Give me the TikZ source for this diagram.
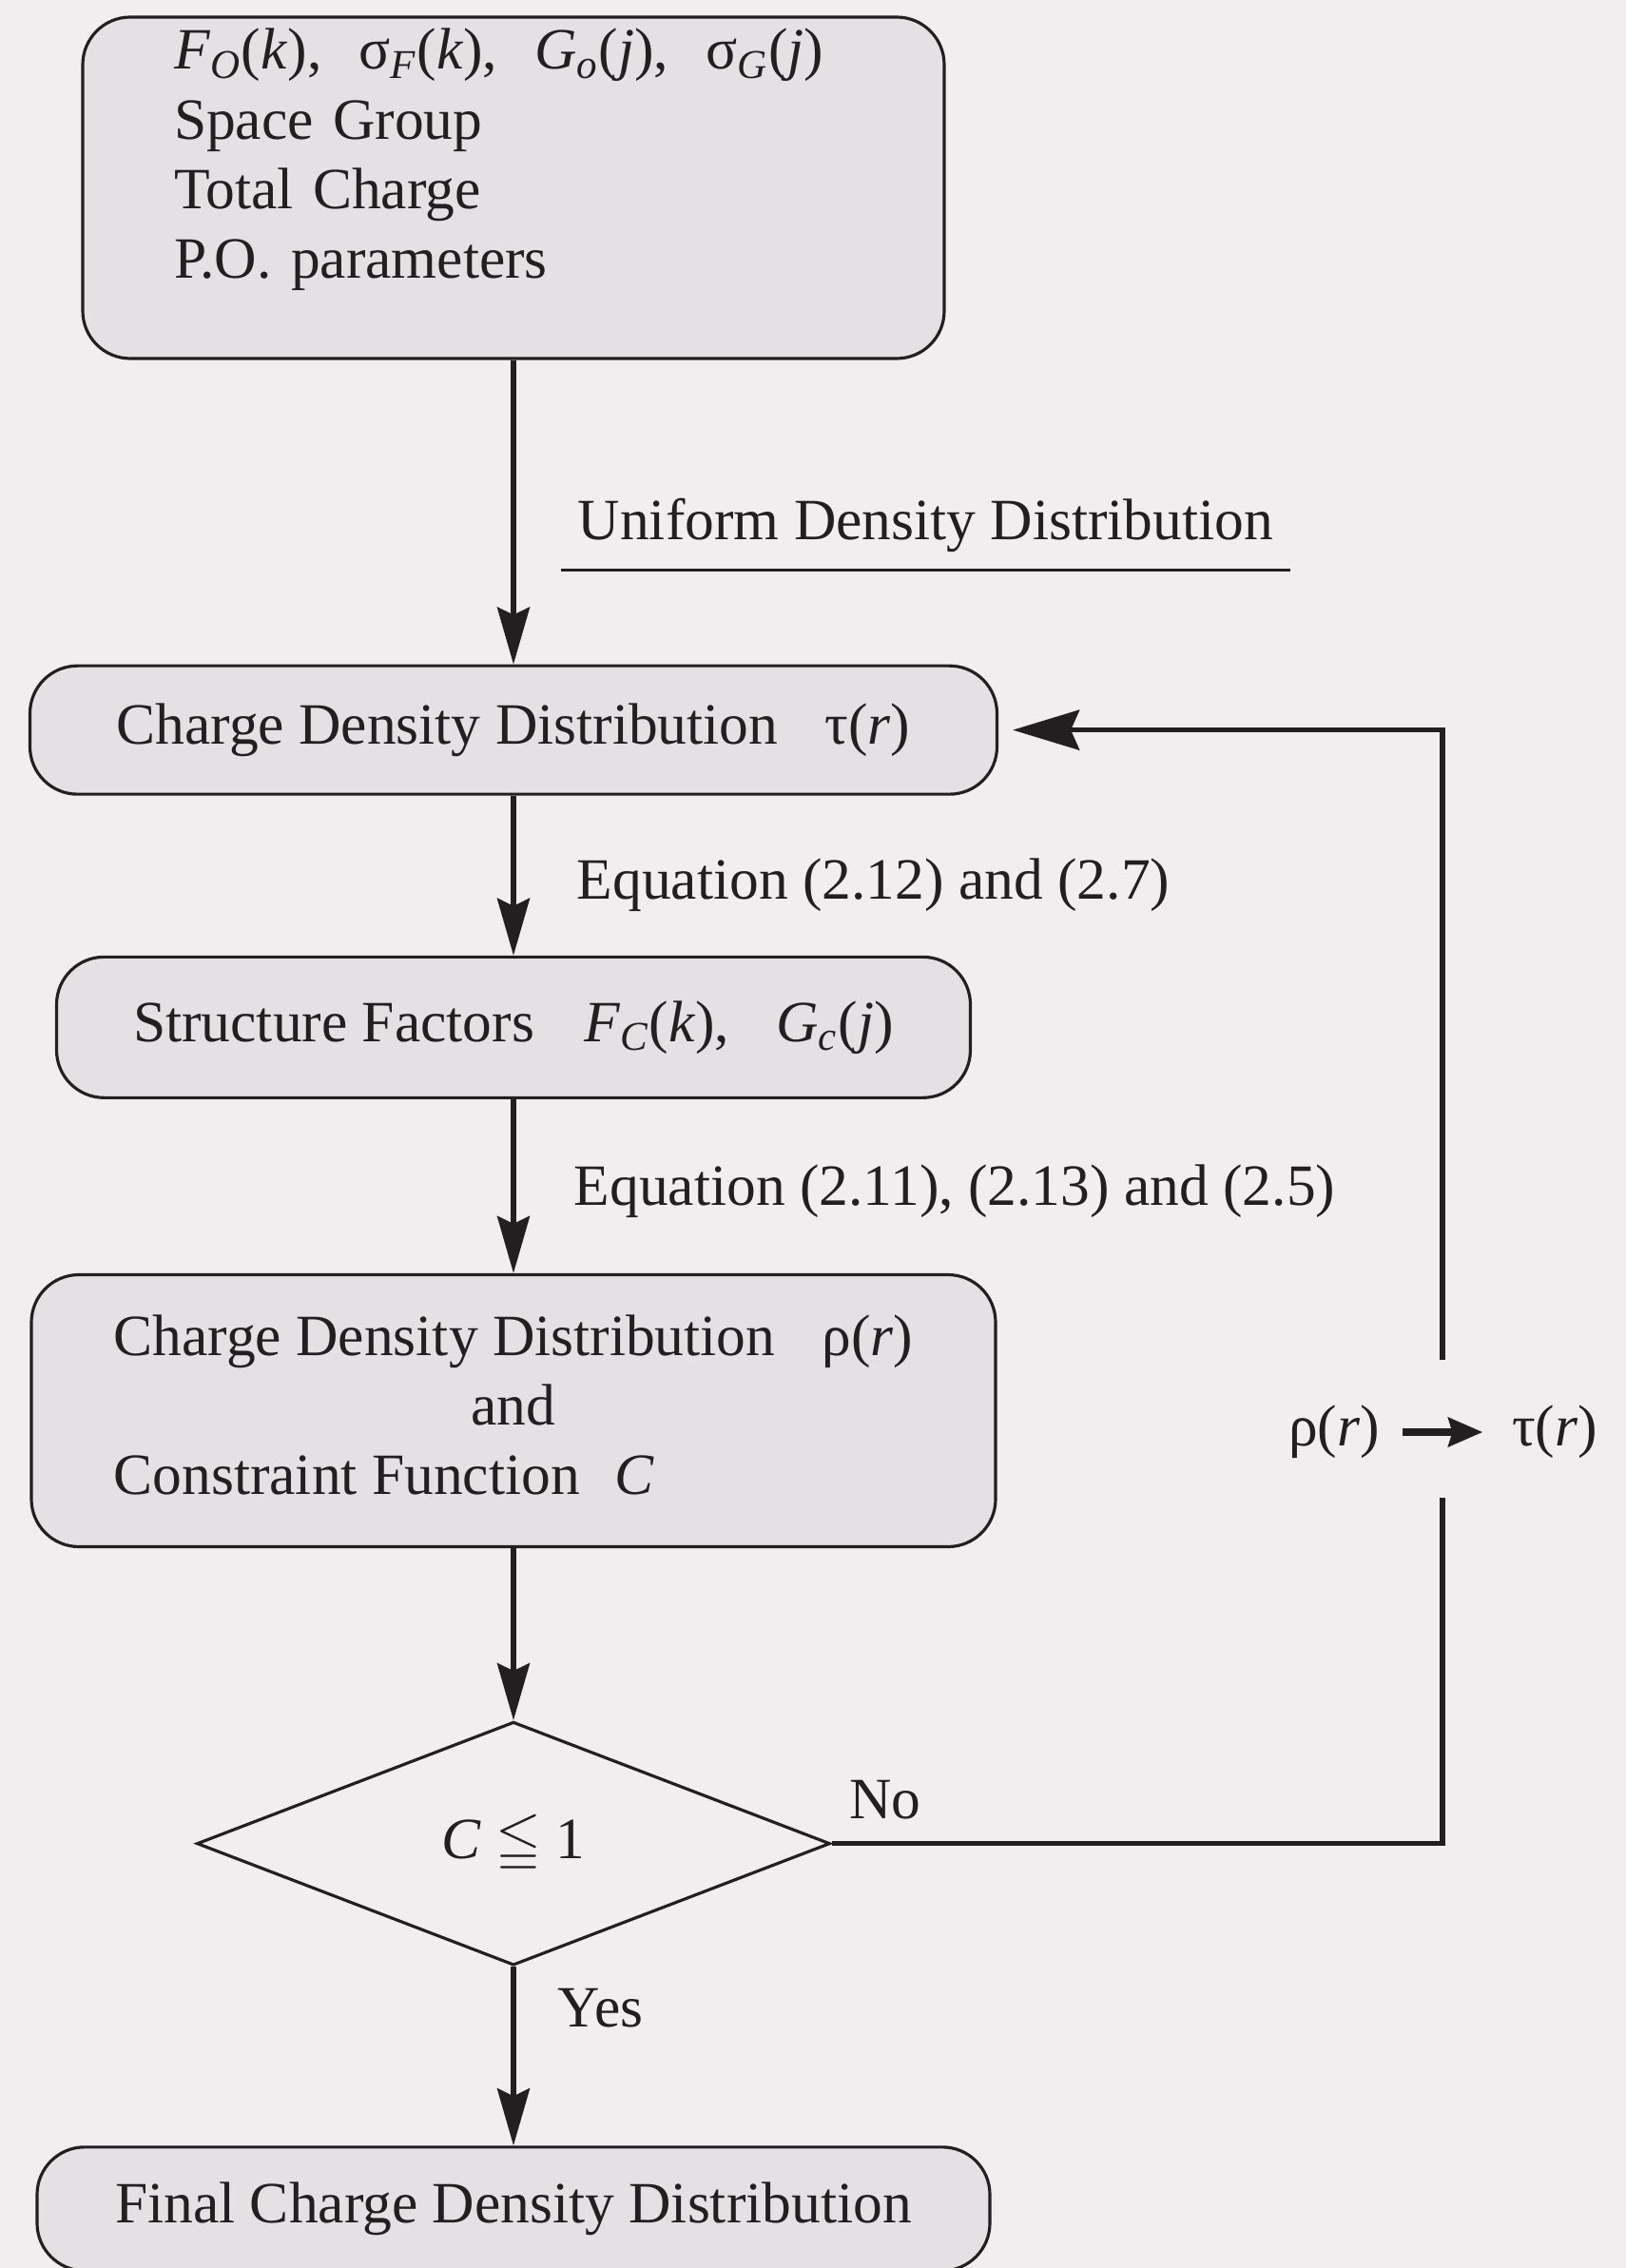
\documentclass[tikz,border=0pt]{standalone}
\usepackage{fontspec}
\setmainfont{Liberation Serif}
\usepackage{amssymb}
\usetikzlibrary{arrows.meta,positioning,shapes.geometric}
\definecolor{scanPaper}{HTML}{F0EEEF}
\definecolor{scanBox}{HTML}{E3E1E3}
\definecolor{scanInk}{HTML}{231F20}
\newcommand{\isub}[1]{\textsubscript{\itshape #1}}
\tikzset{
  flowBox/.style={
    draw=scanInk,
    rounded corners=5mm,
    fill=scanBox,
    line width=0.9pt,
    align=center,
    text=scanInk,
    font=\fontsize{17.5}{20.8}\selectfont,
    inner sep=0pt
  },
  flowDecision/.style={
    diamond,
    draw=scanInk,
    line width=0.9pt,
    text=scanInk,
    font=\fontsize{17.5}{20.8}\selectfont,
    inner sep=0pt
  },
  flowArrow/.style={
    -{Stealth[length=6mm,width=3.4mm,inset=0.8mm]},
    line width=1.6pt,
    draw=scanInk
  },
  flowLine/.style={
    line width=1.6pt,
    draw=scanInk
  },
  flowLabel/.style={
    text=scanInk,
    font=\fontsize{17.5}{20.8}\selectfont,
    inner sep=0pt
  }
}

\begin{document}
\begin{tikzpicture}[node distance=1.8cm]
  \fill[scanPaper] (0,0) rectangle (17.1,-23.85);
  \useasboundingbox (0,0) rectangle (17.1,-23.85);

  \node[flowBox, align=left, text width=7.14cm, inner xsep=9.6mm, text depth=83pt,
        minimum width=9.06cm, minimum height=3.59cm] (inputs) at (5.4,-1.975)
    {\mbox{\textit{F}\isub{O}(\textit{k}),\hspace{0.3em} σ\isub{F}(\textit{k}),\hspace{0.3em} \textit{G}\isub{o}(\textit{j}),\hspace{0.3em} σ\isub{G}(\textit{j})}\\
     Space Group\\
     Total Charge\\
     P.O. parameters};
  \node[flowBox, below=3.2cm of inputs, minimum width=10.17cm, minimum height=1.35cm] (tauBox)
    {Charge Density Distribution\hspace{0.8em}τ(\textit{r})};
  \node[flowBox, below=1.68cm of tauBox, minimum width=9.61cm, minimum height=1.48cm] (factors)
    {Structure Factors\hspace{0.6em} \textit{F}\isub{C}(\textit{k}),\hspace{0.55em} \textit{G}\isub{c}(\textit{j})};
  \node[flowBox, below=1.83cm of factors, minimum width=10.14cm, minimum height=2.86cm] (rhoBox)
    {\begin{tabular}{@{}l@{}}
       Charge Density Distribution\hspace{0.8em}ρ(\textit{r})\\
       \multicolumn{1}{@{}c@{}}{and}\\
       Constraint Function\hspace{0.6em}\textit{C}
     \end{tabular}};
  \node[flowDecision, below=1.81cm of rhoBox, minimum width=6.66cm, minimum height=2.56cm] (test)
    {\textit{C} $\leqq$ 1};
  \node[flowBox, below=1.88cm of test, minimum width=10.02cm, minimum height=1.3cm] (final)
    {Final Charge Density Distribution};

  % main column
  \draw[flowArrow] (inputs) -- node[flowLabel, pos=0.59, anchor=base west, xshift=5mm,
    inner xsep=1.5mm, inner ysep=1.6mm] (uniformLbl) {Uniform Density Distribution} (tauBox);
  \draw[line width=1pt, draw=scanInk] (uniformLbl.south west) -- (uniformLbl.south east);
  \draw[flowArrow] (tauBox) -- node[flowLabel, pos=0.56, anchor=west, xshift=6.4mm]
    (eqA) {Equation (2.12) and (2.7)} (factors);
  \draw[flowArrow] (factors) -- node[flowLabel, pos=0.53, anchor=west, xshift=6.1mm]
    (eqB) {Equation (2.11), (2.13) and (2.5)} (rhoBox);
  \draw[flowArrow] (rhoBox) -- (test);
  \draw[flowArrow] (test) -- node[flowLabel, pos=0.23, anchor=west, xshift=4.4mm]
    (yesLbl) {Yes} (final);

  % feedback loop
  \coordinate (loopBot) at (15.17,-15.75);
  \coordinate (loopTop) at (15.17,-14.30);
  \node[flowLabel] (rhoLbl) at (14.03,-15.06) {ρ(\textit{r})};
  \node[flowLabel] (tauLbl) at (16.35,-15.06) {τ(\textit{r})};
  \draw[flowLine] (test.east) node[flowLabel, anchor=base west, xshift=1.6mm, yshift=2.6mm]
    (noLbl) {No} -| (loopBot);
  \draw[flowLine, -{Stealth[length=7mm,width=4.2mm,inset=0.9mm]}, shorten >=1.5mm]
    (loopTop) |- (tauBox);
  \draw[-{Stealth[length=3.6mm,width=3mm,inset=0.4mm]}, line width=2.4pt, draw=scanInk,
    shorten <=2.3mm, shorten >=3mm] (rhoLbl.east) -- (tauLbl.west);
\end{tikzpicture}
\end{document}
